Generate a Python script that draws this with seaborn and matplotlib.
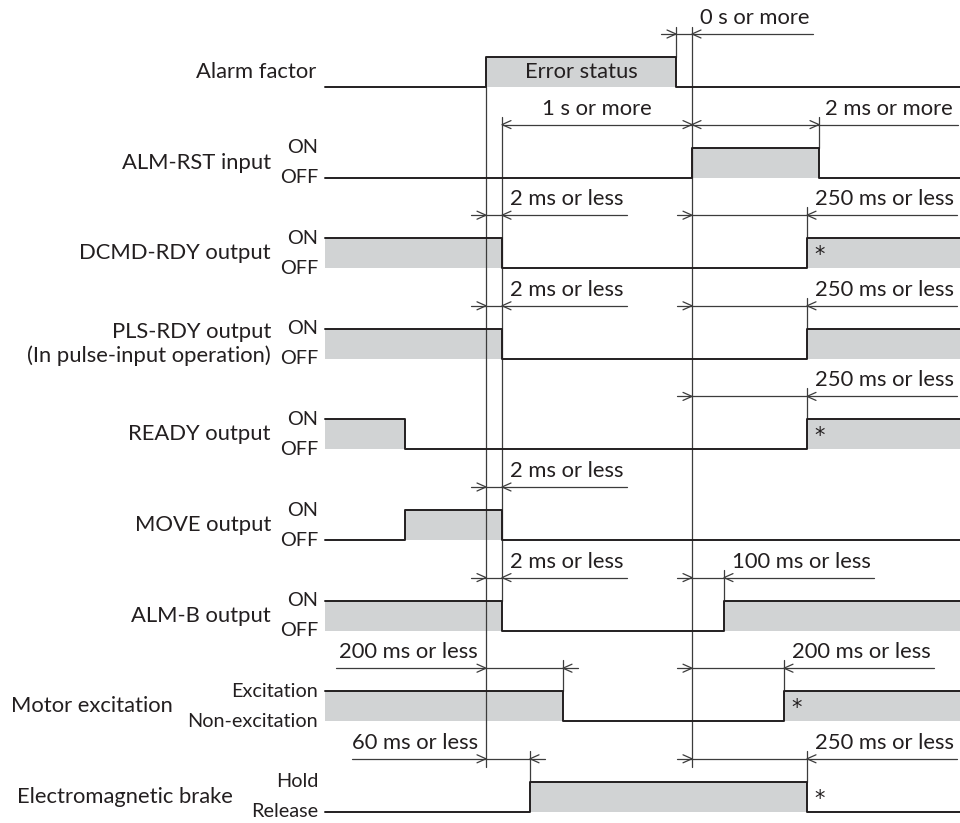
import matplotlib
matplotlib.use("Agg")
import matplotlib.pyplot as plt
import seaborn as sns

sns.set_style("white")
plt.rcParams["font.family"] = ["Lato", "DejaVu Sans"]

# signal names and their level labels
signals = ["Alarm factor", "ALM-RST input", "DCMD-RDY output",
           "PLS-RDY output\n(In pulse-input operation)", "READY output",
           "MOVE output", "ALM-B output", "Motor excitation",
           "Electromagnetic brake"]
hi_labels = ["", "ON", "ON", "ON", "ON", "ON", "ON", "Excitation", "Hold"]
lo_labels = ["", "OFF", "OFF", "OFF", "OFF", "OFF", "OFF", "Non-excitation", "Release"]

# event times on the time axis
t_start, t_end = 325, 960
t_ready_off = 405
t_alarm = 486
t_out_off = 502
t_brake = 530
t_exc_off = 563
t_alarm_clear = 676
t_reset_on = 692
t_almb_on = 724
t_exc_on = 784
t_recover = 807
t_reset_off = 819

# state at t_start (1 = high) and the times where each signal toggles
start_state = [0, 0, 1, 1, 1, 0, 1, 1, 0]
toggles = [[t_alarm, t_alarm_clear], [t_reset_on, t_reset_off],
           [t_out_off, t_recover], [t_out_off, t_recover],
           [t_ready_off, t_recover], [t_ready_off, t_out_off],
           [t_out_off, t_almb_on], [t_exc_off, t_exc_on],
           [t_brake, t_recover]]
star = [False, False, True, False, True, False, False, True, True]

# timing requirements: (row, text, from, to)
timings = [
    (0, "0 s or more", t_alarm_clear, t_reset_on),
    (1, "1 s or more", t_out_off, t_reset_on),
    (1, "2 ms or more", t_reset_on, t_reset_off),
    (2, "2 ms or less", t_alarm, t_out_off),
    (2, "250 ms or less", t_reset_on, t_recover),
    (3, "2 ms or less", t_alarm, t_out_off),
    (3, "250 ms or less", t_reset_on, t_recover),
    (4, "250 ms or less", t_reset_on, t_recover),
    (5, "2 ms or less", t_alarm, t_out_off),
    (6, "2 ms or less", t_alarm, t_out_off),
    (6, "100 ms or less", t_reset_on, t_almb_on),
    (7, "200 ms or less", t_alarm, t_exc_off),
    (7, "200 ms or less", t_reset_on, t_exc_on),
    (8, "60 ms or less", t_alarm, t_brake),
    (8, "250 ms or less", t_reset_on, t_recover),
]

# layout
W, H = 960, 823
row_top = [57 + 90.6 * i for i in range(len(signals))]
lvl = 30
ink = "#231f20"
thin = "#3c3c3c"
gray = "#d1d3d4"

fig = plt.figure(figsize=(W / 100, H / 100), dpi=100)
ax = fig.add_axes([0, 0, 1, 1])
ax.set_xlim(0, W)
ax.set_ylim(H, 0)
ax.axis("off")

lab_fs = 15.8
sub_fs = 14.3
dim_fs = 15.8

# signals
for i, name in enumerate(signals):
    hi, lo = row_top[i], row_top[i] + lvl
    times = [t_start] + toggles[i] + [t_end]
    state = start_state[i]
    xs, ys = [], []
    for k in range(len(times) - 1):
        y = hi if state else lo
        xs += [times[k], times[k + 1]]
        ys += [y, y]
        if state:
            ax.fill_between([times[k], times[k + 1]], hi, lo, color=gray,
                            lw=0, zorder=1)
        state = 1 - state
    sns.lineplot(x=xs, y=ys, estimator=None, sort=False, color=ink, lw=1.4,
                 ax=ax, zorder=4)
    mid = (hi + lo) / 2
    if hi_labels[i]:
        lx = {7: 173, 8: 233}.get(i, 271)
        ax.text(lx, mid, name, ha="right", va="center", fontsize=lab_fs,
                color=ink, linespacing=1.2)
        ax.text(318, hi, hi_labels[i], ha="right", va="center",
                fontsize=sub_fs, color=ink)
        ax.text(318, lo, lo_labels[i], ha="right", va="center",
                fontsize=sub_fs, color=ink)
    else:
        ax.text(316, mid, name, ha="right", va="center", fontsize=lab_fs,
                color=ink)
    if star[i]:
        sx = t_exc_on + 13 if i == 7 else t_recover + 13
        ax.text(sx, mid + 2, "*", ha="center", va="center", fontsize=15,
                color=ink, family="DejaVu Sans")

ax.text((t_alarm + t_alarm_clear) / 2, row_top[0] + 15, "Error status",
        ha="center", va="center", fontsize=lab_fs, color=ink, zorder=5)


def chevron(x, y, d):
    ax.plot([x - d * 9, x, x - d * 9], [y - 4, y, y + 4], color=thin,
            lw=0.9, zorder=5)


# long reference lines
ax.plot([t_alarm, t_alarm], [row_top[0] + lvl, 767], color=thin, lw=0.9, zorder=3)
ax.plot([t_reset_on, t_reset_on], [27, 767], color=thin, lw=0.9, zorder=3)
ax.plot([t_out_off, t_out_off], [117, row_top[6]], color=thin, lw=0.9, zorder=3)
ax.plot([t_alarm_clear, t_alarm_clear], [27, row_top[0]], color=thin, lw=0.9, zorder=3)

long_lines = {t_alarm, t_reset_on, t_out_off, t_alarm_clear}

for row, text, a, b in timings:
    y = row_top[row] - 23
    base = y - 6
    if row == 1:
        # arrows inside, pointing outwards
        chevron(a, y, -1)
        chevron(b, y, 1)
        if a == t_out_off:
            ax.plot([a, b], [y, y], color=thin, lw=0.9, zorder=5)
            ax.text((a + b) / 2, base, text, ha="center", va="bottom",
                    fontsize=dim_fs, color=ink)
        else:
            ax.plot([a, 958], [y, y], color=thin, lw=0.9, zorder=5)
            ax.plot([b, b], [117, row_top[row]], color=thin, lw=0.9, zorder=3)
            ax.text(b + 6, base, text, ha="left", va="bottom",
                    fontsize=dim_fs, color=ink)
        continue
    chevron(a, y, 1)
    chevron(b, y, -1)
    if b not in long_lines:
        ax.plot([b, b], [y - 8, row_top[row]], color=thin, lw=0.9, zorder=3)
    if row in (7, 8) and a == t_alarm:
        left = 336 if row == 7 else 352
        ax.plot([left, b + 15], [y, y], color=thin, lw=0.9, zorder=5)
        ax.text(a - 8, base, text, ha="right", va="bottom",
                fontsize=dim_fs, color=ink)
    else:
        t = ax.text(b + 8, base, text, ha="left", va="bottom",
                    fontsize=dim_fs, color=ink)
        fig.canvas.draw()
        bb = t.get_window_extent()
        ax.plot([a - 15, min(bb.x1 + 3, 958)], [y, y], color=thin, lw=0.9,
                zorder=5)

fig.savefig("out.png", dpi=100)
